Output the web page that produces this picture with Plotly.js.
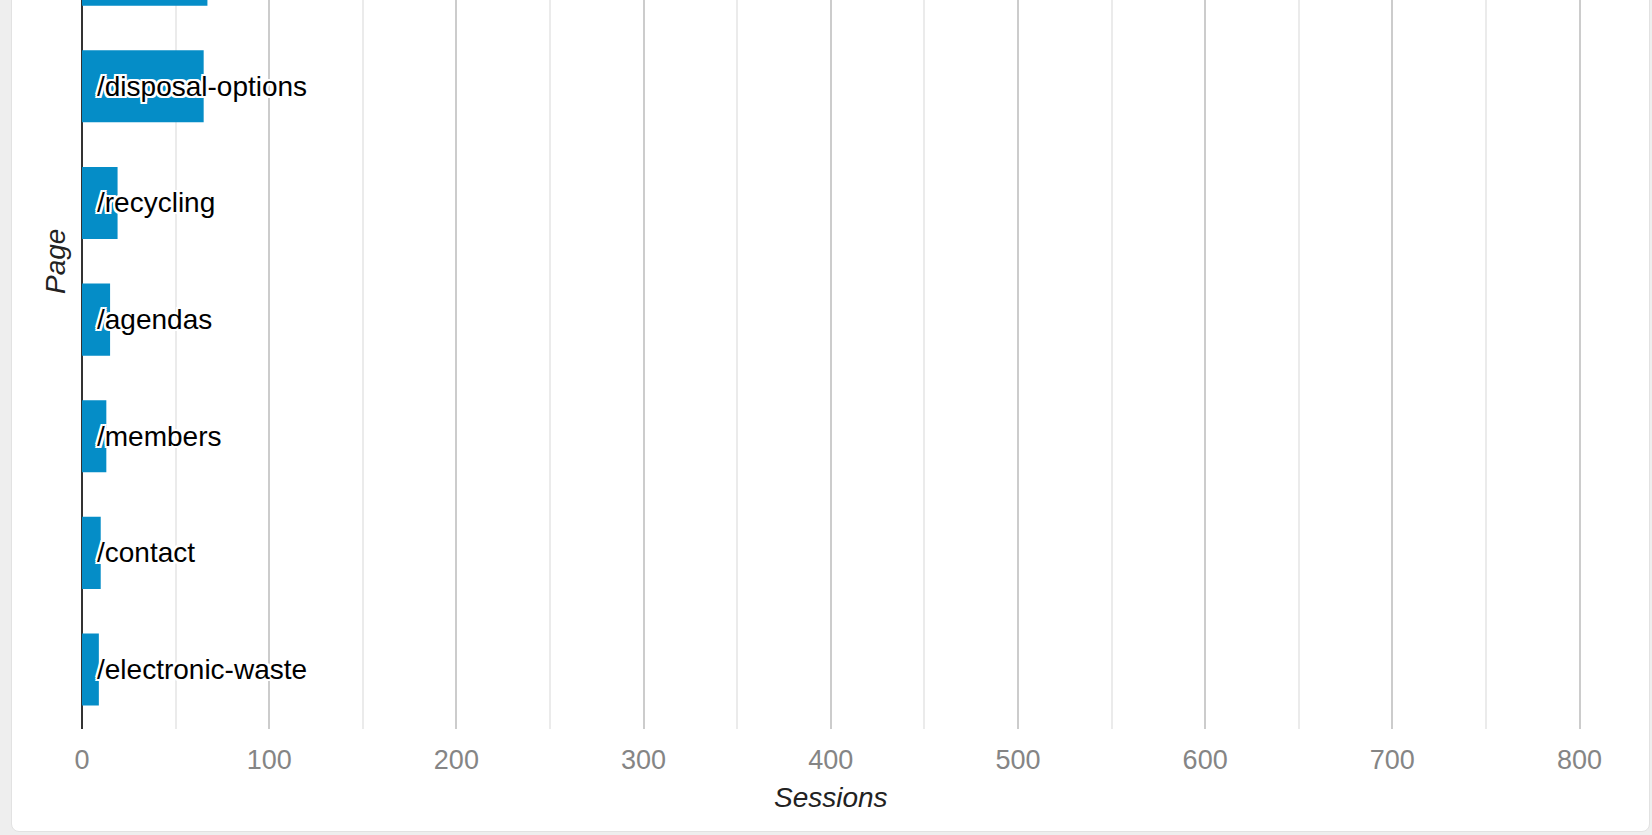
<!DOCTYPE html>
<html>
<head>
<meta charset="utf-8">
<script src="https://cdn.plot.ly/plotly-3.0.1.min.js"></script>
<style>
  html, body { margin: 0; padding: 0; width: 1652px; height: 835px; overflow: hidden; background: #eeeeee; }
  #card { position: absolute; left: 11px; top: -20px; width: 1639px; height: 852px; background: #ffffff;
          border: 1px solid #e2e2e2; border-radius: 8px; box-sizing: border-box; }
  #chart { position: absolute; left: 0; top: 0; width: 1652px; height: 835px; }
</style>
</head>
<body>
<div id="card"></div>
<div id="chart"></div>
<script>
// Data (top-to-bottom order as shown; first one is cut off at the top of the view)
const pages = ["/hazardous-waste", "/disposal-options", "/recycling", "/agendas", "/members", "/contact", "/electronic-waste"];
const sessions = [67, 65, 19, 15, 13, 10, 9];
const xTickVals = [0, 100, 200, 300, 400, 500, 600, 700, 800];
const xTickText = ["0", "100", "200", "300", "400", "500", "600", "700", "800"];

const FONT = "Arial, 'Liberation Sans', sans-serif";
const halo = "-2px -2px 0 #fff, 2px -2px 0 #fff, -2px 2px 0 #fff, 2px 2px 0 #fff, 0 2px 0 #fff, 0 -2px 0 #fff, 2px 0 0 #fff, -2px 0 0 #fff";

const trace = {
  type: "bar",
  orientation: "h",
  x: sessions,
  y: pages,
  marker: { color: "#058dc7", line: { width: 0 } },
  hoverinfo: "x+y"
};

const labelAnnotations = pages.map((p, i) => ({
  xref: "x", yref: "y", x: 0, y: p,
  text: p, showarrow: false,
  xanchor: "left", yanchor: "middle", xshift: 13,
  font: { family: FONT, size: 28, color: "#000000", shadow: halo }
}));

const layout = {
  width: 1652, height: 835,
  paper_bgcolor: "rgba(0,0,0,0)",
  plot_bgcolor: "rgba(0,0,0,0)",
  margin: { l: 82, r: 50, t: 0, b: 106, pad: 0 },
  bargap: 0.382,
  showlegend: false,
  font: { family: FONT },
  xaxis: {
    range: [0, 812],
    tickvals: xTickVals,
    ticktext: xTickText,
    tickfont: { family: FONT, size: 27, color: "#858585" },
    ticks: "outside", ticklen: 7, tickcolor: "rgba(0,0,0,0)",
    showgrid: true, gridcolor: "#cccccc", gridwidth: 2,
    minor: { dtick: 50, showgrid: true, gridcolor: "#ebebeb", gridwidth: 2, ticks: "" },
    zeroline: true, zerolinecolor: "#333333", zerolinewidth: 2,
    showline: false,
    fixedrange: true
  },
  yaxis: {
    type: "category",
    categoryorder: "array",
    categoryarray: pages,
    range: [6.51, 0.26],
    showticklabels: false, showgrid: false, zeroline: false, showline: false, ticks: "",
    fixedrange: true
  },
  annotations: labelAnnotations.concat([
    { xref: "x", yref: "paper", x: 400, y: 0, yanchor: "middle", yshift: -68,
      text: "Sessions", showarrow: false,
      font: { family: FONT, size: 28, color: "#222222", style: "italic" } },
    { xref: "paper", yref: "paper", x: 0, xshift: -27, y: (729 - 262) / 729, xanchor: "center", yanchor: "middle",
      text: "Page", textangle: -90, showarrow: false,
      font: { family: FONT, size: 28, color: "#222222", style: "italic" } }
  ])
};

Plotly.newPlot("chart", [trace], layout, { displayModeBar: false, staticPlot: false });
</script>
</body>
</html>
